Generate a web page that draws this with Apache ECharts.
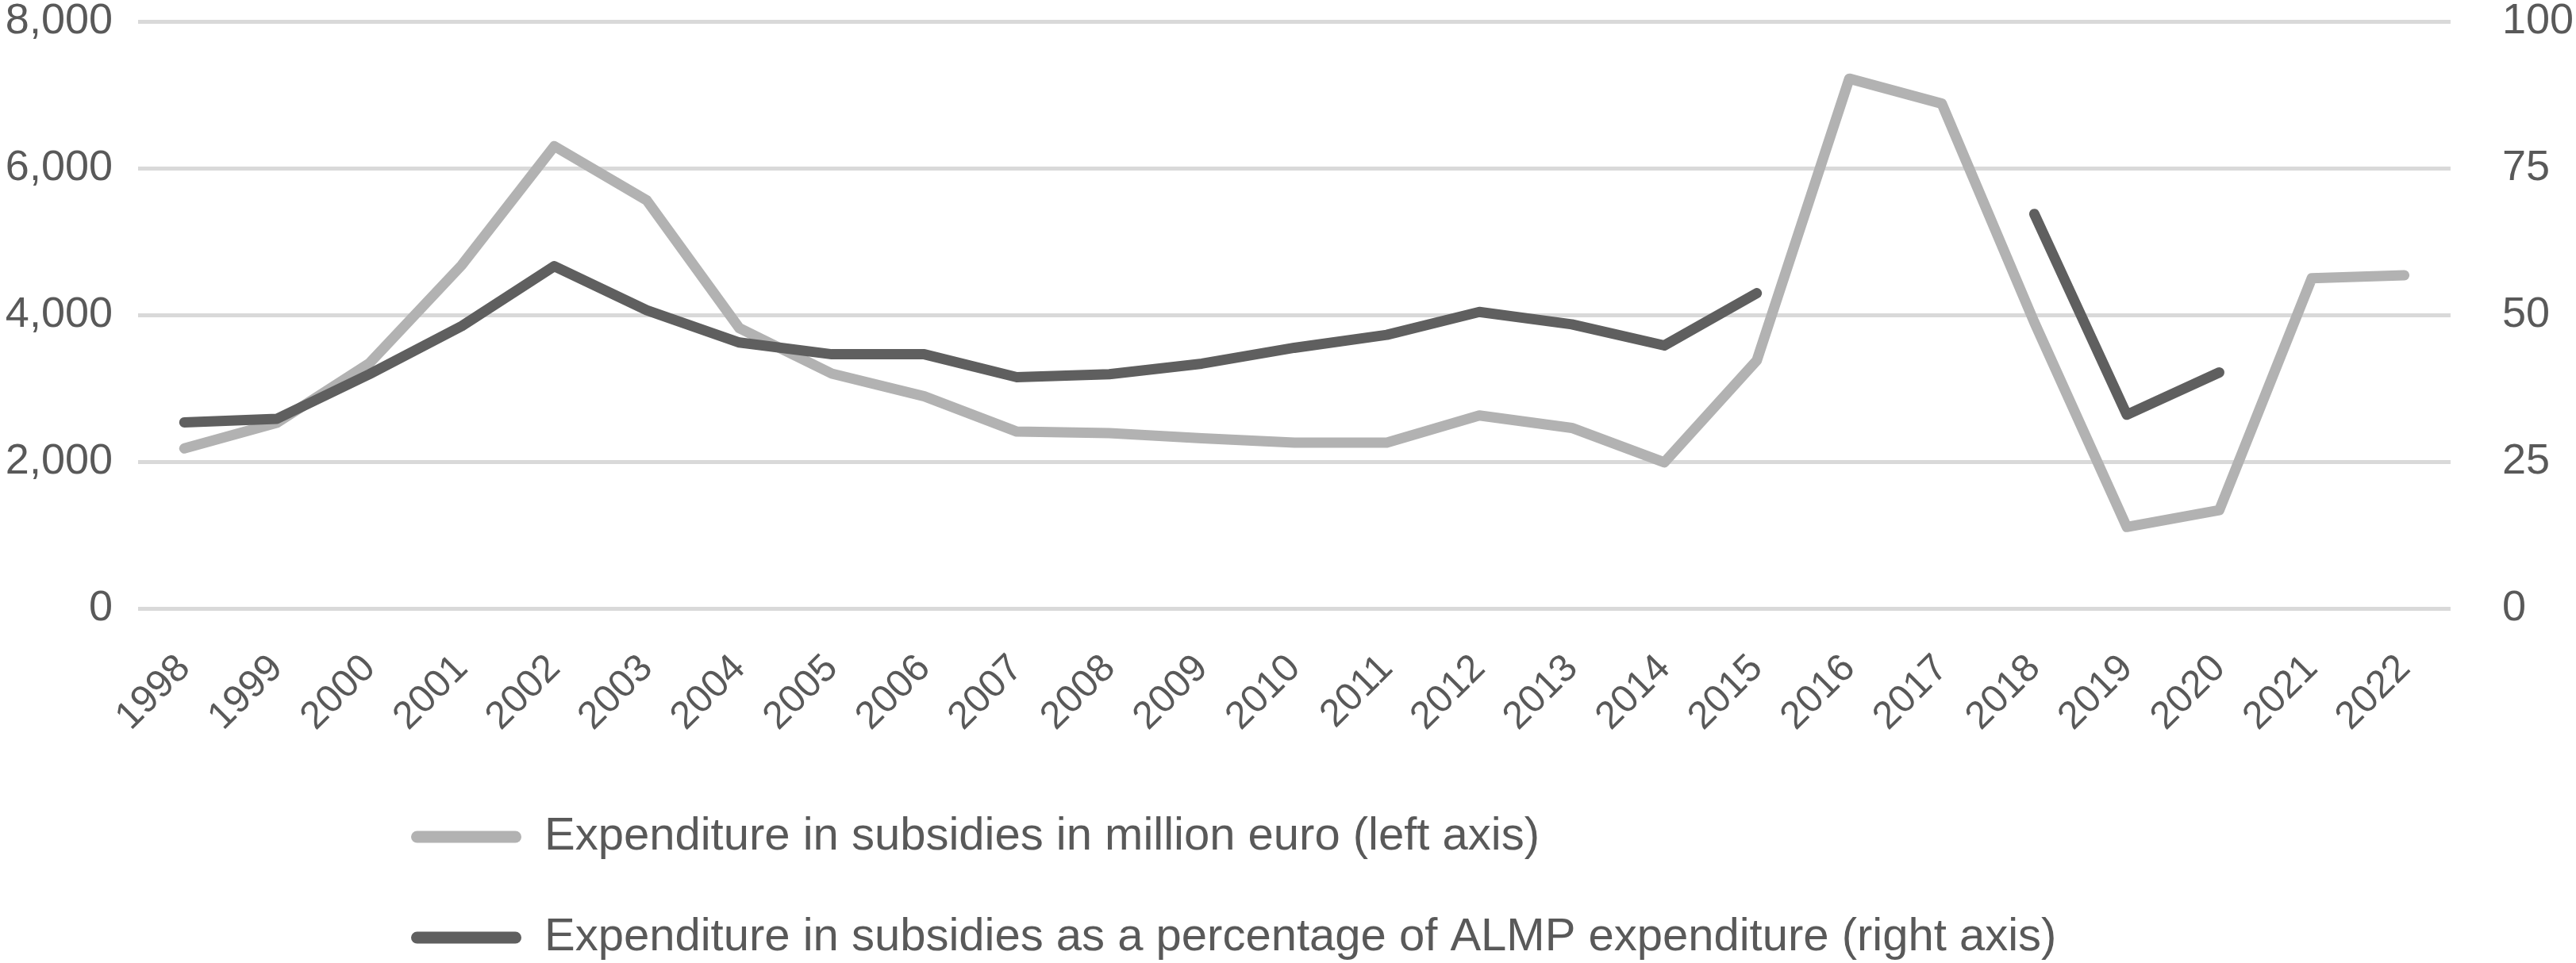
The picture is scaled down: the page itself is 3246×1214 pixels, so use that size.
<!DOCTYPE html>
<html>
<head>
<meta charset="utf-8">
<script src="https://cdn.jsdelivr.net/npm/echarts@6/dist/echarts.min.js"></script>
<style>
    html, body {margin: 0; padding: 0; background: #fff;}
    #chart {width: 3246px; height: 1214px;}
</style>
</head>
<body>
<div id="chart"></div>
<script>
var years = ['1998', '1999', '2000', '2001', '2002', '2003', '2004', '2005', '2006', '2007', '2008', '2009',
    '2010', '2011', '2012', '2013', '2014', '2015', '2016', '2017', '2018', '2019', '2020', '2021', '2022'];
// million euro, left axis
var subsidies = [2180, 2530, 3340, 4680, 6300, 5560, 3820, 3200, 2890, 2410, 2390, 2320,
    2260, 2260, 2630, 2460, 1990, 3380, 7220, 6880, 3900, 1110, 1340, 4500, 4540];
// % of ALMP expenditure, right axis (gaps where no data)
var share = [31.7, 32.3, 39.9, 48.1, 58.3, 50.8, 45.3, 43.3, 43.3, 39.4, 39.9, 41.7,
    44.4, 46.6, 50.5, 48.4, 44.8, 53.7, null, null, 67.2, 33.0, 40.2, null, null];
var leftTicks = [0, 2000, 4000, 6000, 8000];
var rightTicks = [0, 25, 50, 75, 100];
var names = ['Expenditure in subsidies in million euro (left axis)',
    'Expenditure in subsidies as a percentage of ALMP expenditure (right axis)'];

var txtColor = '#595959';
var fontName = '"Liberation Sans", Arial, sans-serif';
// pill shaped legend marker
var pill = 'path://M7.5,0 H131.5 A7.5,7.5 0 0 1 131.5,15 H7.5 A7.5,7.5 0 0 1 7.5,0 Z';

function makeLegend(name, top) {
    return {
        orient: 'vertical',
        left: 518,
        top: top,
        padding: 0,
        itemWidth: 139,
        itemHeight: 15,
        icon: pill,
        textStyle: {color: txtColor, fontSize: 58, fontFamily: fontName, lineHeight: 60, padding: [0, 0, 0, 24]},
        data: [name]
    };
}

var option = {
    animation: false,
    textStyle: {fontFamily: fontName},
    grid: {left: 174, right: 158, top: 20, bottom: 447, containLabel: false},
    legend: [makeLegend(names[0], 1025), makeLegend(names[1], 1152)],
    xAxis: [{
        type: 'category',
        data: years,
        boundaryGap: true,
        axisLine: {show: false},
        axisTick: {show: false},
        axisLabel: {
            interval: 0,
            rotate: 45,
            margin: 68,
            color: txtColor,
            fontSize: 49,
            fontFamily: fontName
        }
    }],
    yAxis: [
        {
            type: 'value',
            min: leftTicks[0],
            max: leftTicks[leftTicks.length - 1],
            interval: leftTicks[1] - leftTicks[0],
            axisLine: {show: false},
            axisTick: {show: false},
            splitLine: {lineStyle: {color: '#d9d9d9', width: 5}},
            axisLabel: {
                margin: 32,
                color: txtColor,
                fontSize: 54,
                fontFamily: fontName,
                formatter: function (v) {
                    return v.toLocaleString('en-US');
                }
            }
        },
        {
            type: 'value',
            min: rightTicks[0],
            max: rightTicks[rightTicks.length - 1],
            interval: rightTicks[1] - rightTicks[0],
            axisLine: {show: false},
            axisTick: {show: false},
            splitLine: {show: false},
            axisLabel: {
                margin: 65,
                color: txtColor,
                fontSize: 54,
                fontFamily: fontName
            }
        }
    ],
    series: [
        {
            name: names[0],
            type: 'line',
            yAxisIndex: 0,
            data: subsidies,
            showSymbol: false,
            symbol: 'none',
            color: '#b2b2b2',
            lineStyle: {color: '#b2b2b2', width: 13, cap: 'round', join: 'round'}
        },
        {
            name: names[1],
            type: 'line',
            yAxisIndex: 1,
            data: share,
            showSymbol: false,
            symbol: 'none',
            color: '#5f5f5f',
            lineStyle: {color: '#5f5f5f', width: 13, cap: 'round', join: 'round'}
        }
    ]
};

var myChart = echarts.init(document.getElementById('chart'));
myChart.setOption(option, true);
</script>
</body>
</html>
